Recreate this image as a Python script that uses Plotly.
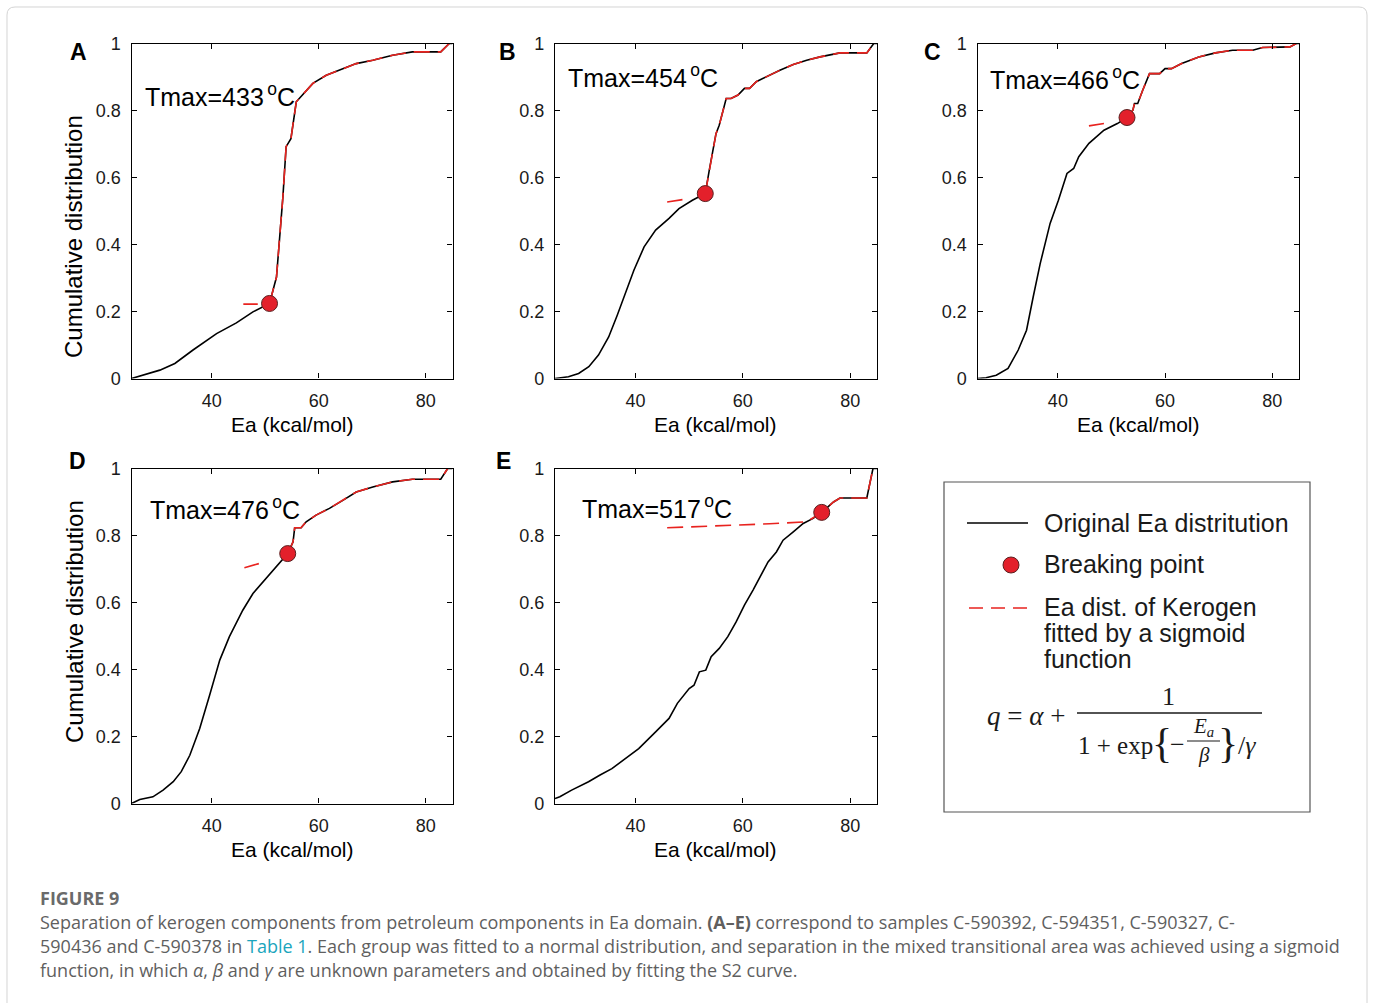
import plotly.graph_objects as go

W, H = 1373, 1003

# ---------------- data ----------------
a_ea = [25, 30.3, 33.1, 36.5, 40.9, 44.6, 47.7, 50.8, 52.1, 52.7, 53.3, 53.9, 54.8, 55.8, 58.9, 61.4, 64.5, 67.0, 70.1, 73.8, 77.5, 82.8, 84.4, 85]
a_q = [0, 0.025, 0.045, 0.085, 0.134, 0.166, 0.199, 0.224, 0.303, 0.423, 0.542, 0.692, 0.716, 0.826, 0.881, 0.905, 0.925, 0.940, 0.950, 0.965, 0.975, 0.975, 1.0, 1.0]
a_fit_ea = [45.9, 48.6, None, 50.8, 52.1, 52.7, 53.3, 53.9, 54.8, 55.8, 58.9, 61.4, 64.5, 67.0, 70.1, 73.8, 77.5, 82.8, 84.4]
a_fit_q = [0.222, 0.222, None, 0.224, 0.303, 0.423, 0.542, 0.692, 0.716, 0.826, 0.881, 0.905, 0.925, 0.940, 0.950, 0.965, 0.975, 0.975, 1.0]
a_break = [50.8, 0.224]

b_ea = [25, 27.5, 29.4, 31.3, 33.1, 35.0, 36.6, 38.1, 39.7, 41.6, 43.75, 46.25, 48.1, 50.6, 53.0, 53.75, 54.4, 55.0, 55.6, 56.9, 57.8, 59.1, 60.3, 61.25, 62.5, 64.4, 66.9, 69.4, 71.9, 74.4, 78.1, 83.1, 84.4, 85]
b_q = [0, 0.005, 0.015, 0.035, 0.07, 0.124, 0.189, 0.254, 0.323, 0.393, 0.443, 0.478, 0.507, 0.532, 0.552, 0.622, 0.682, 0.731, 0.756, 0.836, 0.836, 0.846, 0.866, 0.866, 0.886, 0.901, 0.920, 0.937, 0.950, 0.960, 0.972, 0.972, 1.0, 1.0]
b_fit_ea = [45.9, 48.75, None, 53.0, 53.75, 54.4, 55.0, 55.6, 56.9, 57.8, 59.1, 60.3, 61.25, 62.5, 64.4, 66.9, 69.4, 71.9, 74.4, 78.1, 83.1, 84.4]
b_fit_q = [0.527, 0.534, None, 0.552, 0.622, 0.682, 0.731, 0.756, 0.836, 0.836, 0.846, 0.866, 0.866, 0.886, 0.901, 0.920, 0.937, 0.950, 0.960, 0.972, 0.972, 1.0]
b_break = [53.0, 0.552]

c_ea = [25, 26.6, 28.5, 30.7, 32.6, 34.15, 35.4, 36.7, 38.55, 40.1, 41.7, 42.95, 43.9, 45.8, 48.6, 51.1, 52.9, 54.0, 54.3, 54.9, 55.85, 57.1, 59.0, 60.0, 61.2, 63.1, 66.3, 69.4, 72.6, 76.35, 78.2, 83.3, 84.5, 85]
c_q = [0, 0.002, 0.01, 0.03, 0.085, 0.144, 0.244, 0.343, 0.463, 0.532, 0.612, 0.627, 0.662, 0.702, 0.741, 0.761, 0.779, 0.801, 0.821, 0.821, 0.861, 0.910, 0.910, 0.925, 0.925, 0.940, 0.960, 0.972, 0.980, 0.980, 0.988, 0.990, 1.0, 1.0]
c_fit_ea = [45.8, 48.6, None, 52.9, 54.0, 54.3, 54.9, 55.85, 57.1, 59.0, 60.0, 61.2, 63.1, 66.3, 69.4, 72.6, 76.35, 78.2, 83.3, 84.5]
c_fit_q = [0.754, 0.761, None, 0.779, 0.801, 0.821, 0.821, 0.861, 0.910, 0.910, 0.925, 0.925, 0.940, 0.960, 0.972, 0.980, 0.980, 0.988, 0.990, 1.0]
c_break = [52.9, 0.779]

d_ea = [25, 26.55, 29.0, 30.9, 32.8, 34.3, 35.9, 37.75, 39.6, 41.5, 43.3, 45.8, 47.7, 50.2, 52.05, 54.2, 55.2, 55.5, 56.7, 57.65, 59.5, 62.0, 64.5, 67.0, 70.1, 73.8, 77.5, 82.8, 84.1, 85]
d_q = [0, 0.012, 0.02, 0.04, 0.065, 0.095, 0.144, 0.224, 0.323, 0.428, 0.498, 0.577, 0.627, 0.672, 0.706, 0.746, 0.781, 0.823, 0.823, 0.841, 0.861, 0.881, 0.905, 0.930, 0.945, 0.960, 0.968, 0.968, 1.0, 1.0]
d_fit_ea = [46.1, 48.8, None, 54.2, 55.2, 55.5, 56.7, 57.65, 59.5, 62.0, 64.5, 67.0, 70.1, 73.8, 77.5, 82.8, 84.1]
d_fit_q = [0.704, 0.716, None, 0.746, 0.781, 0.823, 0.823, 0.841, 0.861, 0.881, 0.905, 0.930, 0.945, 0.960, 0.968, 0.968, 1.0]
d_break = [54.2, 0.746]

e_ea = [25, 25.9, 28.1, 31.25, 33.4, 35.6, 38.1, 40.6, 43.75, 46.25, 47.8, 50.0, 50.9, 51.9, 53.1, 54.1, 55.6, 57.2, 58.75, 60.3, 61.9, 63.1, 64.7, 66.25, 67.5, 69.4, 71.25, 73.1, 74.7, 76.9, 78.1, 83.1, 84.25, 85]
e_q = [0.015, 0.02, 0.04, 0.065, 0.085, 0.104, 0.134, 0.164, 0.214, 0.254, 0.299, 0.343, 0.353, 0.393, 0.398, 0.438, 0.463, 0.498, 0.542, 0.592, 0.637, 0.672, 0.721, 0.751, 0.786, 0.811, 0.836, 0.851, 0.869, 0.900, 0.912, 0.912, 1.0, 1.0]
e_fit_ea = [45.9, 55.0, 65.0, 71.9, 74.7, 76.9, 78.1, 83.1, 84.25]
e_fit_q = [0.823, 0.828, 0.835, 0.841, 0.869, 0.900, 0.912, 0.912, 1.0]
e_break = [74.7, 0.869]

panel_letters = ["A", "B", "C", "D", "E"]
tmax_labels = ["433", "454", "466", "476", "517"]
x_ticks = [40, 60, 80]
y_ticks = [0, 0.2, 0.4, 0.6, 0.8, 1]
y_ticklabels = ["0", "0.2", "0.4", "0.6", "0.8", "1"]

# ---------------- layout helpers ----------------
def px(p):
    return p / W

def py(p):
    # the page renders the figure slightly compressed vertically; map so that p lands on pixel p
    return 1 - (p - 10) / 983.0

FONT = "Arial, Liberation Sans, sans-serif"
SERIF = "Liberation Serif, DejaVu Serif, serif"
THIN = "\u2009"

panels = [
    dict(ea=a_ea, q=a_q, fe=a_fit_ea, fq=a_fit_q, bp=a_break, box=(131.5, 452.5, 43.5, 378.5),
         letter=(78, 52), tmax=(143, 95)),
    dict(ea=b_ea, q=b_q, fe=b_fit_ea, fq=b_fit_q, bp=b_break, box=(555, 877, 43.5, 378.5),
         letter=(508, 52), tmax=(566, 76)),
    dict(ea=c_ea, q=c_q, fe=c_fit_ea, fq=c_fit_q, bp=c_break, box=(977.5, 1299, 43.5, 378.5),
         letter=(932, 52), tmax=(988, 78)),
    dict(ea=d_ea, q=d_q, fe=d_fit_ea, fq=d_fit_q, bp=d_break, box=(131.5, 452.5, 468.5, 803.5),
         letter=(77, 461), tmax=(148, 508)),
    dict(ea=e_ea, q=e_q, fe=e_fit_ea, fq=e_fit_q, bp=e_break, box=(555, 877, 468.5, 803.5),
         letter=(503, 461), tmax=(580, 507)),
]

fig = go.Figure()
annotations = []
shapes = []
layout_axes = {}

def ann(text, x, y, xa="left", ya="middle", font=None, **kw):
    d = dict(text=text, x=px(x), y=py(y), xref="paper", yref="paper", showarrow=False,
             xanchor=xa, yanchor=ya, font=font)
    d.update(kw)
    annotations.append(d)

for i, p in enumerate(panels):
    n = "" if i == 0 else str(i + 1)
    xa, ya = "x" + n, "y" + n
    x0, x1, y0, y1 = p["box"]
    fig.add_trace(go.Scatter(x=p["ea"], y=p["q"], mode="lines", xaxis=xa, yaxis=ya,
                             line=dict(color="black", width=1.6), showlegend=False,
                             hoverinfo="skip"))
    fig.add_trace(go.Scatter(x=p["fe"], y=p["fq"], mode="lines", xaxis=xa, yaxis=ya,
                             line=dict(color="#e8231f", width=1.6, dash="16px,8px"),
                             connectgaps=False, showlegend=False, hoverinfo="skip"))
    fig.add_trace(go.Scatter(x=[p["bp"][0]], y=[p["bp"][1]], mode="markers", xaxis=xa, yaxis=ya,
                             marker=dict(size=16, color="#e3202b",
                                         line=dict(color="#5a2020", width=1)),
                             showlegend=False, hoverinfo="skip"))
    common = dict(showline=True, linecolor="black", linewidth=1.2, mirror="ticks",
                  ticks="inside", ticklen=5, tickwidth=1, tickcolor="black",
                  showgrid=False, zeroline=False,
                  tickfont=dict(family=FONT, size=18, color="#1a1a1a"))
    layout_axes["xaxis" + n] = dict(common, domain=[px(x0), px(x1)], range=[25, 85],
                                    tickvals=x_ticks, anchor=ya, ticklabelstandoff=6)
    layout_axes["yaxis" + n] = dict(common, domain=[py(y1), py(y0)], range=[0, 1],
                                    tickvals=y_ticks, ticktext=y_ticklabels, anchor=xa,
                                    ticklabelstandoff=6)
    ann("<b>%s</b>" % panel_letters[i], p["letter"][0], p["letter"][1], xa="center",
        font=dict(family=FONT, size=23, color="black"))
    ann("Tmax=%s<sup>%so</sup>C" % (tmax_labels[i], THIN), p["tmax"][0], p["tmax"][1],
        font=dict(family=FONT, size=25, color="black"))
    ann("Ea (kcal/mol)", (x0 + x1) / 2, y1 + 46, xa="center",
        font=dict(family=FONT, size=21, color="black"))

for yc in (237, 622):
    ann("Cumulative distribution", 74, yc, xa="center", textangle=-90,
        font=dict(family=FONT, size=24, color="black"))

# ---------------- legend box ----------------
shapes.append(dict(type="rect", xref="paper", yref="paper", x0=px(944), x1=px(1310), y0=py(482), y1=py(812),
                   line=dict(color="#555555", width=1.2), fillcolor="rgba(0,0,0,0)"))
shapes.append(dict(type="line", xref="paper", yref="paper", x0=px(967), x1=px(1028), y0=py(523), y1=py(523),
                   line=dict(color="black", width=1.5)))
shapes.append(dict(type="circle", xref="paper", yref="paper", x0=px(1003), x1=px(1019), y0=py(573), y1=py(557),
                   line=dict(color="#5a2020", width=1), fillcolor="#e3202b"))
shapes.append(dict(type="line", xref="paper", yref="paper", x0=px(969), x1=px(1032), y0=py(608), y1=py(608),
                   line=dict(color="#e8231f", width=1.5, dash="14px,8px")))
LEG = dict(family=FONT, size=25, color="#1a1a1a")
ann("Original Ea distritution", 1042, 523, font=LEG)
ann("Breaking point", 1042, 564, font=LEG)
ann("Ea dist. of Kerogen", 1042, 607, font=LEG)
ann("fitted by a sigmoid", 1042, 633, font=LEG)
ann("function", 1042, 659, font=LEG)

# formula
MATH = dict(family=SERIF, size=26, color="#1a1a1a")
SMALL = dict(family=SERIF, size=21, color="#1a1a1a")
BRACE = dict(family=SERIF, size=42, color="#1a1a1a")
ann("<i>q</i> = <i>α</i> +", 985, 716, font=dict(MATH, size=27))
shapes.append(dict(type="line", xref="paper", yref="paper", x0=px(1077), x1=px(1262), y0=py(713), y1=py(713),
                   line=dict(color="#1a1a1a", width=1.5)))
ann("1", 1168, 696, xa="center", font=MATH)
ann("1 + exp", 1076, 745, font=dict(MATH, size=25))
ann("{", 1162, 743, xa="center", font=BRACE)
ann("−", 1177, 744, xa="center", font=MATH)
ann("<i>E<sub>a</sub></i>", 1203, 727, xa="center", font=SMALL)
shapes.append(dict(type="line", xref="paper", yref="paper", x0=px(1187), x1=px(1220), y0=py(741), y1=py(741),
                   line=dict(color="#1a1a1a", width=1.2)))
ann("<i>β</i>", 1204, 755, xa="center", font=SMALL)
ann("}", 1228, 743, xa="center", font=BRACE)
ann("/<i>γ</i>", 1236, 745, font=MATH)

# ---------------- caption ----------------
CAPF = "Open Sans, sans-serif"
CAP = dict(family=CAPF, size=18, color="#5f5f5f")
ann("<b>FIGURE 9</b>", 38, 898, font=dict(family=CAPF, size=18, color="#6a6a6a"))
cap_lines = [
    "Separation of kerogen components from petroleum components in Ea domain. <b>(A–E)</b> correspond to samples C-590392, C-594351, C-590327, C-",
    "590436 and C-590378 in <span style='color:#1aa5bd'>Table 1</span>. Each group was fitted to a normal distribution, and separation in the mixed transitional area was achieved using a sigmoid",
    "function, in which <i>α</i>, <i>β</i> and <i>γ</i> are unknown parameters and obtained by fitting the S2 curve.",
]
for k, line in enumerate(cap_lines):
    ann(line, 38, 922 + 24 * k, font=CAP)

# outer border
shapes.append(dict(type="path", xref="paper", yref="paper",
                   path="M %f,%f L %f,%f Q %f,%f %f,%f L %f,%f Q %f,%f %f,%f L %f,%f" % (
                       px(7), py(1010), px(7), py(15), px(7), py(7), px(15), py(7),
                       px(1359), py(7), px(1367), py(7), px(1367), py(15), px(1367), py(1010)),
                   line=dict(color="#d4d4d4", width=1)))

fig.update_layout(width=W, height=H, margin=dict(l=0, r=0, t=0, b=0),
                  paper_bgcolor="white", plot_bgcolor="white", showlegend=False,
                  annotations=annotations, shapes=shapes, **layout_axes)

fig.write_html("out.html")
